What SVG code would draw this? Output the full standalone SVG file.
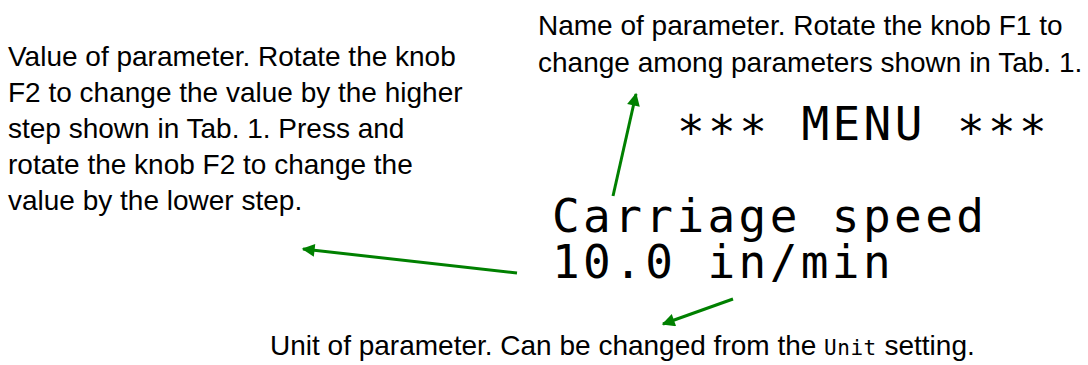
<svg xmlns="http://www.w3.org/2000/svg" width="1088" height="365" viewBox="0 0 1088 365">
<style>
.t{font-family:"Liberation Sans",Arial,sans-serif;font-size:28px;fill:#000}
.lcd{font-family:"DejaVu Sans Mono",monospace;font-size:46px;fill:#000;letter-spacing:3.4px}
.lcds{font-family:"DejaVu Sans Mono",monospace;font-size:21px;fill:#000;letter-spacing:0.5px}
.c{stroke:#008000;stroke-width:3;fill:none}
</style>
<defs>
<marker id="ah" viewBox="0 0 10 10" refX="9" refY="5" markerWidth="9" markerHeight="4.3" markerUnits="strokeWidth" orient="auto">
<path d="M0,0 L10,5 L0,10 z" fill="#008000"/>
</marker>
</defs>
<g id="name-label">
<text class="t" x="538" y="35">Name of parameter. Rotate the knob F1 to</text>
<text class="t" x="538" y="72">change among parameters shown in Tab. 1.</text>
</g>
<g id="value-label">
<text class="t" x="8" y="66">Value of parameter. Rotate the knob</text>
<text class="t" x="8" y="102">F2 to change the value by the higher</text>
<text class="t" x="8" y="138">step shown in Tab. 1. Press and</text>
<text class="t" x="8" y="174">rotate the knob F2 to change the</text>
<text class="t" x="8" y="210">value by the lower step.</text>
</g>
<g id="display">
<text class="lcd" x="677" y="140"><tspan dy="8">***</tspan><tspan dy="-8"> MENU </tspan><tspan dy="8">***</tspan></text>
<text class="lcd" x="552" y="232">Carriage speed</text>
<text class="lcd" x="552" y="278">10.0 in/min</text>
</g>
<g id="unit-label">
<text class="t" x="270" y="355">Unit of parameter. Can be changed from the <tspan class="lcds">Unit</tspan> setting.</text>
</g>
<g id="connectors">
<line class="c" x1="613" y1="196" x2="636" y2="94" marker-end="url(#ah)"/>
<line class="c" x1="517" y1="273" x2="303" y2="249" marker-end="url(#ah)"/>
<line class="c" x1="733" y1="299" x2="663" y2="324" marker-end="url(#ah)"/>
</g>
</svg>
